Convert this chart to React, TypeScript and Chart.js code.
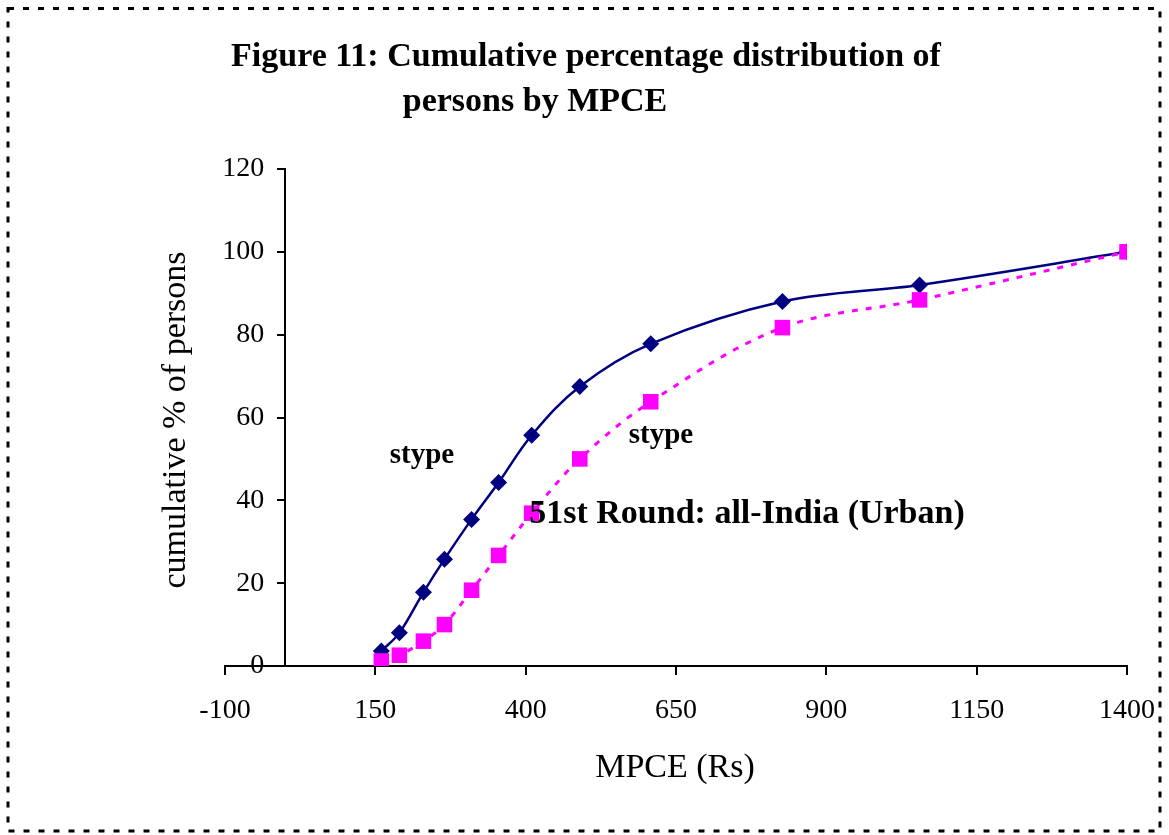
import React, { useEffect, useRef } from "react";
import { Chart, registerables } from "chart.js";

Chart.register(...registerables);

// ---- data ----
const mpceRs = [160, 190, 230, 265, 310, 355, 410, 490, 608, 827, 1055, 1400];
const cumulativeSolid = [3.6, 8, 17.8, 25.8, 35.4, 44.3, 55.7, 67.5, 77.8, 88, 92, 100];
const cumulativeDotted = [1.2, 2.6, 6, 10, 18.3, 26.7, 36.9, 50, 63.8, 81.7, 88.4, 100];
const xTickValues = [-100, 150, 400, 650, 900, 1150, 1400];
const yTickValues = [0, 20, 40, 60, 80, 100, 120];

const titleLines = ["Figure 11: Cumulative percentage distribution of", "persons by MPCE"];
const xAxisTitle = "MPCE (Rs)";
const yAxisTitle = "cumulative % of persons";
const seriesLabel = "stype";
const roundLabel = "51st Round: all-India (Urban)";

const SERIF = '"Liberation Serif", "Times New Roman", serif';

const decorPlugin = {
  id: "decor",
  afterDraw(chart: any) {
    const ctx = chart.ctx as CanvasRenderingContext2D;
    ctx.save();
    ctx.fillStyle = "#000";
    ctx.textBaseline = "alphabetic";
    ctx.textAlign = "center";
    // title
    ctx.font = `bold 34px ${SERIF}`;
    ctx.fillText(titleLines[0], 586, 66);
    ctx.fillText(titleLines[1], 535, 111);
    // annotations
    ctx.font = `bold 34px ${SERIF}`;
    ctx.fillText(roundLabel, 747, 523);
    ctx.font = `bold 29px ${SERIF}`;
    ctx.fillText(seriesLabel, 422, 463);
    ctx.fillText(seriesLabel, 661, 443);
    // axis titles
    ctx.font = `34px ${SERIF}`;
    ctx.fillText(xAxisTitle, 675, 777);
    ctx.save();
    ctx.translate(176, 420);
    ctx.rotate(-Math.PI / 2);
    ctx.textBaseline = "middle";
    ctx.fillText(yAxisTitle, 0, 0);
    ctx.restore();
    // dashed frame
    ctx.strokeStyle = "#000";
    ctx.lineWidth = 3;
    ctx.setLineDash([6, 9]);
    ctx.strokeRect(8, 8.5, 1152, 822.5);
    ctx.restore();
  },
};

export default function App() {
  const canvasRef = useRef<HTMLCanvasElement | null>(null);

  useEffect(() => {
    document.body.style.margin = "0";
    const canvas = canvasRef.current;
    if (!canvas) return;
    const chart = new Chart(canvas, {
      type: "line",
      data: {
        datasets: [
          {
            label: "stype (solid)",
            data: mpceRs.map((x, i) => ({ x, y: cumulativeSolid[i] })),
            borderColor: "#000080",
            backgroundColor: "#000080",
            borderWidth: 2.5,
            pointStyle: "rectRot",
            pointRadius: 8.5,
            pointBorderWidth: 0,
            tension: 0.35,
            order: 1,
          },
          {
            label: "stype (dotted)",
            data: mpceRs.map((x, i) => ({ x, y: cumulativeDotted[i] })),
            borderColor: "#FF00FF",
            backgroundColor: "#FF00FF",
            borderWidth: 3,
            borderDash: [6, 8],
            pointStyle: "rect",
            pointRadius: 11,
            pointBorderWidth: 0,
            tension: 0.35,
            order: 0,
          },
        ],
      },
      options: {
        responsive: false,
        animation: false,
        layout: { padding: { left: 225, right: 42, top: 169, bottom: 0 } },
        plugins: {
          legend: { display: false },
          title: { display: false },
          tooltip: { enabled: false },
        },
        scales: {
          x: {
            type: "linear",
            position: "bottom",
            min: -100,
            max: 1400,
            afterBuildTicks: (scale: any) => {
              scale.ticks = xTickValues.map((v) => ({ value: v }));
            },
            afterFit: (scale: any) => {
              scale.height = 169;
              scale.paddingLeft = 0;
              scale.paddingRight = 0;
            },
            grid: {
              display: true,
              drawOnChartArea: false,
              drawTicks: true,
              tickLength: 9,
              color: "#000",
              lineWidth: 2,
            },
            border: { display: true, color: "#000", width: 2 },
            ticks: {
              color: "#000",
              font: { family: SERIF, size: 28 },
              padding: 19,
              maxRotation: 0,
              autoSkip: false,
              callback: (v: any) => String(v),
            },
          },
          y: {
            type: "linear",
            position: { x: 0 } as any,
            min: 0,
            max: 120,
            afterBuildTicks: (scale: any) => {
              scale.ticks = yTickValues.map((v) => ({ value: v }));
            },
            grid: {
              display: true,
              drawOnChartArea: false,
              drawTicks: true,
              tickLength: 7,
              color: "#000",
              lineWidth: 2,
            },
            border: { display: true, color: "#000", width: 2 },
            ticks: {
              color: "#000",
              font: { family: SERIF, size: 28 },
              padding: 17,
              // the value-positioned axis draws labels flush with its line; pad with spaces
              callback: (v: any) => `${v}\u2002 `,
            },
          },
        },
      },
      plugins: [decorPlugin],
    });
    return () => chart.destroy();
  }, []);

  return (
    <div style={{ width: 1169, height: 835, background: "#fff" }}>
      <canvas ref={canvasRef} width={1169} height={835} style={{ width: 1169, height: 835, display: "block" }} />
    </div>
  );
}
